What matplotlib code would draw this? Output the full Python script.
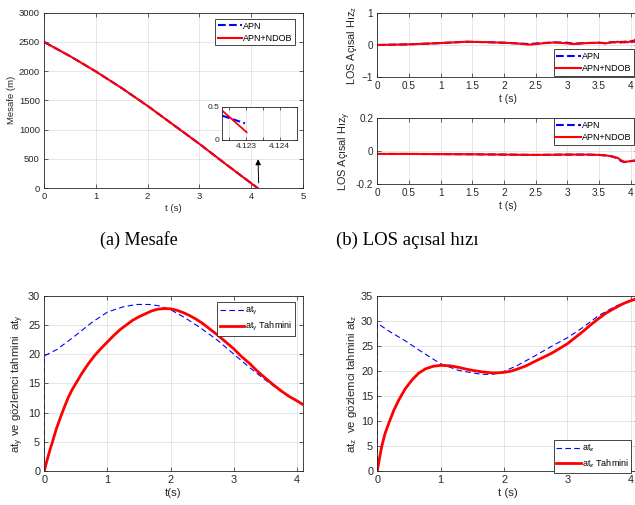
import matplotlib
matplotlib.use("Agg")
import matplotlib.pyplot as plt
import numpy as np

# ---------------- data ----------------
# (a) distance
t_a = [0, 0.5, 1.0, 1.5, 2.0, 2.5, 3.0, 3.5, 4.0, 4.123]
r_apn = [2500, 2258, 1995, 1710, 1405, 1080, 755, 415, 82, 0]
r_ndob = [2500, 2258, 1995, 1710, 1405, 1080, 755, 415, 80, 0]
# inset
t_in_apn = [4.1223, 4.12297]
r_in_apn = [0.365, 0.25]
t_in_ndob = [4.1223, 4.12302]
r_in_ndob = [0.44, 0.116]

# (b) LOS rate z
t_bz = [0, 0.5, 1.0, 1.4, 1.7, 2.0, 2.2, 2.4, 2.6, 2.8, 3.0, 3.1, 3.3, 3.5, 3.6, 3.7, 3.8,
        3.85, 3.9, 3.95, 4.0, 4.03, 4.06, 4.08, 4.09, 4.1, 4.11, 4.12]
los_z_apn = [0, 0.02, 0.06, 0.1, 0.09, 0.07, 0.05, 0.03, 0.06, 0.08, 0.07, 0.04, 0.06, 0.07,
             0.06, 0.09, 0.08, 0.1, 0.08, 0.11, 0.09, 0.13, 0.1, 0.18, 0.12, 0.22, 0.14, 0.2]
los_z_ndob = [0, 0.02, 0.06, 0.1, 0.09, 0.07, 0.05, 0.01, 0.05, 0.08, 0.05, 0.03, 0.06, 0.07,
              0.05, 0.08, 0.1, 0.07, 0.11, 0.08, 0.12, 0.09, 0.15, 0.1, 0.22, 0.13, 0.28, 0.16]
# (b) LOS rate y
t_by = [0, 0.5, 1.0, 1.5, 2.0, 2.5, 3.0, 3.3, 3.5, 3.6, 3.7, 3.8, 3.85, 3.9, 3.95, 4.0, 4.05, 4.1, 4.123]
los_y_apn = [-0.018, -0.018, -0.019, -0.02, -0.022, -0.024, -0.022, -0.022, -0.024, -0.027,
             -0.033, -0.045, -0.062, -0.068, -0.066, -0.062, -0.06, -0.058, -0.056]
los_y_ndob = [-0.018, -0.018, -0.019, -0.02, -0.022, -0.024, -0.022, -0.022, -0.024, -0.027,
              -0.032, -0.043, -0.058, -0.066, -0.065, -0.061, -0.059, -0.057, -0.055]

# (c) target acceleration y and its estimate
t_c = [0, 0.0001, 0.2, 0.46, 0.75, 1.0, 1.25, 1.46, 1.65, 1.8, 2.0, 2.2, 2.46, 2.75, 3.0,
       3.25, 3.52, 3.7, 3.83, 4.0, 4.09]
aty = [0, 19.7, 20.8, 22.9, 25.4, 27.2, 28.1, 28.5, 28.5, 28.3, 27.6, 26.4, 24.6, 22.3, 20.0,
       17.7, 15.4, 14.0, 13.0, 12.0, 11.4]
t_c2 = [0, 0.03, 0.06, 0.1, 0.13, 0.19, 0.26, 0.32, 0.38, 0.44, 0.5, 0.6, 0.7, 0.8, 0.9, 1.0,
        1.1, 1.2, 1.3, 1.4, 1.5, 1.6, 1.7, 1.8, 1.9, 2.0, 2.1, 2.2, 2.3, 2.4, 2.5, 2.62, 2.75,
        2.87, 3.0, 3.12, 3.25, 3.37, 3.5, 3.62, 3.75, 3.87, 4.0, 4.09]
aty_hat = [0, 1.3, 2.5, 4.0, 5.0, 7.2, 9.3, 11.0, 12.6, 13.9, 15.0, 16.8, 18.4, 19.8, 21.0,
           22.1, 23.2, 24.2, 25.0, 25.8, 26.4, 26.9, 27.4, 27.7, 27.8, 27.75, 27.5, 27.1, 26.6,
           26.0, 25.3, 24.3, 23.2, 22.1, 20.9, 19.6, 18.4, 17.1, 15.9, 14.8, 13.7, 12.8, 12.0, 11.4]

# (d) target acceleration z and its estimate
t_d = [0, 0.0001, 0.2, 0.44, 0.7, 1.0, 1.28, 1.5, 1.65, 1.8, 1.92, 2.0, 2.2, 2.49, 2.75,
       3.0, 3.25, 3.49, 3.76, 4.0, 4.123]
atz = [0, 29.5, 27.8, 26.0, 23.8, 21.4, 20.1, 19.6, 19.3, 19.3, 19.5, 19.9, 21.0, 23.0, 24.9,
       26.6, 28.7, 31.0, 32.9, 34.1, 34.6]
t_d2 = [0, 0.035, 0.07, 0.12, 0.18, 0.26, 0.34, 0.44, 0.55, 0.65, 0.76, 0.88, 1.0, 1.15,
        1.28, 1.4, 1.5, 1.65, 1.8, 1.9, 2.0, 2.1, 2.2, 2.35, 2.49, 2.62, 2.75, 2.87, 3.0, 3.12,
        3.25, 3.37, 3.49, 3.62, 3.76, 3.88, 4.0, 4.123]
atz_hat = [0, 2.6, 4.9, 7.4, 9.5, 12.1, 14.2, 16.4, 18.2, 19.5, 20.4, 20.9, 21.1, 21.0,
           20.7, 20.35, 20.1, 19.8, 19.6, 19.6, 19.7, 19.9, 20.3, 21.0, 21.9, 22.7, 23.5, 24.4,
           25.4, 26.6, 27.9, 29.2, 30.4, 31.6, 32.6, 33.4, 34.0, 34.5]

# ---------------- style ----------------
plt.rcParams['font.family'] = ['Liberation Sans', 'DejaVu Sans']
plt.rcParams['mathtext.fontset'] = 'custom'
plt.rcParams['mathtext.rm'] = 'Liberation Sans'
plt.rcParams['mathtext.it'] = 'Liberation Sans'
AX = '#262626'
BLUE = '#0000FF'
RED = '#FF0000'
LFS = 6.5

fig = plt.figure(figsize=(6.35, 5.05), dpi=100)


def style(ax, fs=7):
    for s in ax.spines.values():
        s.set_color(AX)
        s.set_linewidth(0.6)
    ax.tick_params(direction='in', length=3, width=0.5, colors=AX, labelsize=fs,
                   top=True, right=True, pad=3)
    ax.grid(True, color='#dcdcdc', linewidth=0.5)
    ax.set_axisbelow(True)


def leg(ax, **kw):
    l = ax.legend(fontsize=LFS, handlelength=2.7, handletextpad=0.1, borderpad=0.3,
                  labelspacing=0.35, borderaxespad=0, fancybox=False, framealpha=1, **kw)
    l.get_frame().set_edgecolor(AX)
    l.get_frame().set_linewidth(0.6)
    return l


# (a)
axa = fig.add_axes([0.0693, 0.6277, 0.4079, 0.3471])
style(axa, 6.8)
axa.plot(t_a, r_apn, '--', color=BLUE, lw=1.5, label='APN')
axa.plot(t_a, r_ndob, '-', color=RED, lw=1.5, label='APN+NDOB')
axa.set_xlim(0, 5)
axa.set_ylim(0, 3000)
axa.set_xticks(range(0, 6))
axa.set_yticks(range(0, 3001, 500))
axa.set_xlabel('t (s)', fontsize=6.8, color=AX, labelpad=2)
axa.set_ylabel('Mesafe (m)', fontsize=6.8, color=AX, labelpad=2)
leg(axa, loc='upper right', bbox_to_anchor=(0.97, 0.965))
axa.annotate('', xy=(4.13, 540), xytext=(4.145, 40),
             arrowprops=dict(arrowstyle='-|>', color='k', lw=0.7, mutation_scale=8))

axi = fig.add_axes([222.3 / 635, (505 - 140) / 505, (296.7 - 222.3) / 635, 33.3 / 505])
style(axi)
axi.plot(t_in_apn, r_in_apn, '--', color=BLUE, lw=1.5)
axi.plot(t_in_ndob, r_in_ndob, '-', color=RED, lw=1.3)
axi.set_xlim(4.1223, 4.1245)
axi.set_ylim(0, 0.5)
axi.set_xticks([4.1225, 4.123, 4.1235, 4.124])
axi.set_xticklabels(['', '4.123', '', '4.124'])
axi.set_yticks([0, 0.5])
axi.set_yticklabels(['0', '0.5'])
axi.tick_params(labelsize=6, length=2, pad=2)

xt_b = ['0', '0.5', '1', '1.5', '2', '2.5', '3', '3.5', '4']

# (b) top
axbz = fig.add_axes([377.3 / 635, (505 - 77.3) / 505, 4.123 * 63.35 / 635, 64.6 / 505])
style(axbz, 7.2)
axbz.plot(t_bz, los_z_apn, '--', color=BLUE, lw=1.5, label='APN')
axbz.plot(t_bz, los_z_ndob, '-', color=RED, lw=1.5, label='APN+NDOB')
axbz.set_xlim(0, 4.123)
axbz.set_ylim(-1, 1)
axbz.set_yticks([-1, 0, 1])
axbz.set_xticks(np.arange(0, 4.01, 0.5))
axbz.set_xticklabels(xt_b)
axbz.set_xlabel('t (s)', fontsize=7.5, color=AX, labelpad=2)
axbz.set_ylabel('LOS Açısal Hız$_\\mathregular{z}$', fontsize=7.8, color=AX, labelpad=2)
leg(axbz, loc='lower left', bbox_to_anchor=(0.675, 0.02))

# (b) bottom
axby = fig.add_axes([377.3 / 635, (505 - 183.7) / 505, 4.123 * 63.35 / 635, 65.4 / 505])
style(axby, 7.2)
axby.plot(t_by, los_y_apn, '--', color=BLUE, lw=1.5, label='APN')
axby.plot(t_by, los_y_ndob, '-', color=RED, lw=1.5, label='APN+NDOB')
axby.set_xlim(0, 4.123)
axby.set_ylim(-0.2, 0.2)
axby.set_yticks([-0.2, 0, 0.2])
axby.set_yticklabels(['-0.2', '0', '0.2'])
axby.set_xticks(np.arange(0, 4.01, 0.5))
axby.set_xticklabels(xt_b)
axby.set_xlabel('t (s)', fontsize=7.5, color=AX, labelpad=2)
axby.set_ylabel('LOS Açısal Hız$_\\mathregular{y}$', fontsize=7.8, color=AX, labelpad=2)
leg(axby, loc='upper left', bbox_to_anchor=(0.675, 1.0))

# (c)
axc = fig.add_axes([44.3 / 635, (505 - 471) / 505, 258.4 / 635, 175.3 / 505])
style(axc, 7.8)
axc.plot(t_c, aty, '--', color=BLUE, lw=0.8, dashes=(5, 3), label='at$_\\mathregular{y}$')
axc.plot(t_c2, aty_hat, '-', color=RED, lw=2.0, label='at$_\\mathregular{y}$ Tahmini')
axc.set_xlim(0, 4.09)
axc.set_ylim(0, 30)
axc.set_xticks(range(0, 5))
axc.set_yticks(range(0, 31, 5))
axc.set_xlabel('t(s)', fontsize=8.2, color=AX, labelpad=2)
axc.set_ylabel('at$_\\mathregular{y}$ ve gözlemci tahmini  at$_\\mathregular{y}$', fontsize=8.2,
               color=AX, labelpad=1)
leg(axc, loc='upper right', bbox_to_anchor=(0.97, 0.962))

# (d)
axd = fig.add_axes([377.3 / 635, (505 - 471) / 505, 4.123 * 63.35 / 635, 175.3 / 505])
style(axd, 7.8)
axd.plot(t_d, atz, '--', color=BLUE, lw=0.8, dashes=(5, 3), label='at$_\\mathregular{z}$')
axd.plot(t_d2, atz_hat, '-', color=RED, lw=2.0, label='at$_\\mathregular{z}$ Tahmini')
axd.set_xlim(0, 4.123)
axd.set_ylim(0, 35)
axd.set_xticks(range(0, 5))
axd.set_yticks(range(0, 36, 5))
axd.set_xlabel('t (s)', fontsize=8.2, color=AX, labelpad=2)
axd.set_ylabel('at$_\\mathregular{z}$  ve gözlemci tahmini at$_\\mathregular{z}$', fontsize=8.2,
               color=AX, labelpad=1)
leg(axd, loc='lower left', bbox_to_anchor=(0.675, -0.01))

# captions
fig.text(139 / 635, 1 - 240 / 505, '(a) Mesafe', family='Liberation Serif', fontsize=13,
         ha='center', va='center')
fig.text(407 / 635, 1 - 240 / 505, '(b) LOS açısal hızı', family='Liberation Serif',
         fontsize=13.5, ha='center', va='center')

fig.savefig('out.png', dpi=100)
